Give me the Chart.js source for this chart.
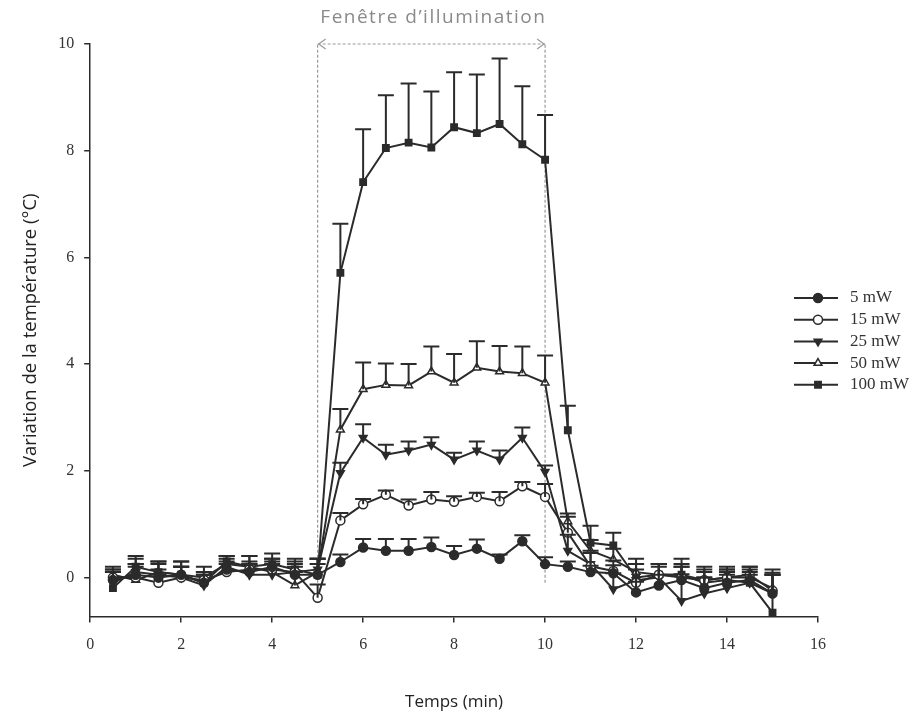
<!DOCTYPE html>
<html>
<head>
<meta charset="utf-8">
<script src="https://cdn.jsdelivr.net/npm/chart.js"></script>
<style>
  body { margin: 0; background: #fff; }
</style>
</head>
<body>
<canvas id="chart" width="924" height="716"></canvas>
<script>
// time points (min)
const times = [0.5, 1, 1.5, 2, 2.5, 3, 3.5, 4, 4.5, 5, 5.5, 6, 6.5, 7, 7.5, 8, 8.5, 9, 9.5, 10,
  10.5, 11, 11.5, 12, 12.5, 13, 13.5, 14, 14.5, 15];

const mw5 = [-0.05, 0.05, 0.0, 0.05, -0.1, 0.15, 0.1, 0.2, 0.05, 0.05, 0.29, 0.56, 0.5, 0.5, 0.57, 0.42, 0.54, 0.35, 0.68, 0.25,
  0.2, 0.1, 0.08, -0.28, -0.15, -0.05, -0.2, -0.1, -0.05, -0.3];
const err5 = [0.2, 0.2, 0.15, 0.15, 0.15, 0.15, 0.15, 0.15, 0.15, 0.2, 0.14, 0.16, 0.22, 0.22, 0.18, 0.17, 0.17, 0.08, 0.11, 0.13,
  0.1, 0.12, 0.15, 0.2, 0.2, 0.25, 0.2, 0.2, 0.15, 0.35];

const mw15 = [0.0, 0.0, -0.1, 0.0, -0.05, 0.1, 0.15, 0.15, 0.1, -0.38, 1.07, 1.37, 1.55, 1.35, 1.46, 1.42, 1.51, 1.43, 1.71, 1.51,
  0.84, 0.21, 0.12, -0.1, 0.05, 0.0, -0.05, 0.0, 0.05, -0.25];
const err15 = [0.15, 0.2, 0.15, 0.2, 0.15, 0.15, 0.15, 0.15, 0.15, 0.25, 0.14, 0.1, 0.08, 0.11, 0.14, 0.1, 0.08, 0.17, 0.08, 0.24,
  0.3, 0.25, 0.2, 0.25, 0.2, 0.2, 0.2, 0.15, 0.15, 0.3];

const mw25 = [-0.1, 0.1, 0.05, 0.0, -0.15, 0.2, 0.05, 0.05, 0.1, 0.15, 1.96, 2.62, 2.3, 2.38, 2.49, 2.21, 2.38, 2.21, 2.62, 1.98,
  0.5, 0.25, -0.22, -0.05, 0.0, -0.44, -0.3, -0.2, -0.1, -0.3];
const err25 = [0.2, 0.25, 0.2, 0.2, 0.2, 0.15, 0.2, 0.2, 0.2, 0.2, 0.19, 0.25, 0.19, 0.17, 0.14, 0.13, 0.17, 0.17, 0.19, 0.12,
  0.3, 0.25, 0.3, 0.3, 0.2, 0.5, 0.3, 0.25, 0.25, 0.35];

const mw50 = [0.05, -0.05, 0.1, 0.05, 0.0, 0.25, 0.2, 0.1, -0.15, 0.1, 2.77, 3.53, 3.61, 3.6, 3.86, 3.65, 3.93, 3.86, 3.83, 3.65,
  1.05, 0.5, 0.34, 0.1, 0.05, 0.05, -0.05, 0.0, 0.0, -0.2];
const err50 = [0.15, 0.3, 0.2, 0.25, 0.2, 0.15, 0.2, 0.25, 0.25, 0.25, 0.39, 0.5, 0.4, 0.4, 0.47, 0.54, 0.5, 0.48, 0.5, 0.51,
  0.15, 0.2, 0.2, 0.25, 0.2, 0.3, 0.25, 0.2, 0.2, 0.35];

const mw100 = [-0.2, 0.2, 0.1, 0.05, -0.1, 0.3, 0.2, 0.25, 0.15, 0.05, 5.71, 7.41, 8.05, 8.15, 8.06, 8.44, 8.33, 8.5, 8.12, 7.83,
  2.76, 0.65, 0.6, 0.0, 0.05, 0.05, -0.1, -0.05, -0.1, -0.66];
const err100 = [0.3, 0.2, 0.2, 0.25, 0.2, 0.1, 0.2, 0.2, 0.2, 0.3, 0.92, 0.99, 0.99, 1.11, 1.05, 1.03, 1.1, 1.23, 1.09, 0.84,
  0.46, 0.32, 0.24, 0.25, 0.2, 0.2, 0.2, 0.2, 0.15, 0.75];

const xTicks = [0, 2, 4, 6, 8, 10, 12, 14, 16];
const yTicks = [0, 2, 4, 6, 8, 10];
const windowStart = 5;
const windowEnd = 10;

const INK = '#2b2b2b';

function series(label, values, errs, style, filled, rotation) {
  return {
    label: label,
    data: times.map((t, i) => ({ x: t, y: values[i] })),
    errors: errs,
    borderColor: INK,
    borderWidth: 2,
    pointStyle: style,
    pointRotation: rotation || 0,
    pointRadius: 4.5,
    pointBorderWidth: 1.5,
    pointBorderColor: INK,
    pointBackgroundColor: filled ? INK : '#fff',
    tension: 0
  };
}

// vertical error bars, upper side only, with a cap
const errorBars = {
  id: 'errorBars',
  afterDatasetsDraw(chart) {
    const ctx = chart.ctx;
    const y = chart.scales.y;
    ctx.save();
    ctx.strokeStyle = INK;
    ctx.lineWidth = 2;
    chart.data.datasets.forEach((ds, di) => {
      const meta = chart.getDatasetMeta(di);
      meta.data.forEach((pt, i) => {
        const v = ds.data[i].y;
        const top = y.getPixelForValue(v + ds.errors[i]);
        ctx.beginPath();
        ctx.moveTo(pt.x, pt.y);
        ctx.lineTo(pt.x, top);
        ctx.moveTo(pt.x - 8, top);
        ctx.lineTo(pt.x + 8, top);
        ctx.stroke();
      });
    });
    ctx.restore();
  }
};

// dashed "illumination window" bracket and its label
const windowMark = {
  id: 'windowMark',
  beforeDatasetsDraw(chart) {
    const ctx = chart.ctx;
    const xs = chart.scales.x, ys = chart.scales.y;
    const x1 = xs.getPixelForValue(windowStart);
    const x2 = xs.getPixelForValue(windowEnd);
    const top = ys.getPixelForValue(10);
    const bot = ys.getPixelForValue(-0.1);
    ctx.save();
    ctx.strokeStyle = '#9a9a9a';
    ctx.lineWidth = 1.2;
    ctx.setLineDash([3, 2]);
    ctx.beginPath();
    ctx.moveTo(x1, bot); ctx.lineTo(x1, top);
    ctx.moveTo(x2, bot); ctx.lineTo(x2, top);
    ctx.moveTo(x1, top); ctx.lineTo(x2, top);
    ctx.stroke();
    ctx.setLineDash([]);
    ctx.beginPath();
    ctx.moveTo(x1 + 8, top - 5); ctx.lineTo(x1 + 1, top); ctx.lineTo(x1 + 8, top + 5);
    ctx.moveTo(x2 - 8, top - 5); ctx.lineTo(x2 - 1, top); ctx.lineTo(x2 - 8, top + 5);
    ctx.stroke();
    ctx.fillStyle = '#8a8a8a';
    ctx.font = '19px "Open Sans"';
    ctx.letterSpacing = '1.5px';
    ctx.textAlign = 'center';
    ctx.textBaseline = 'middle';
    ctx.fillText('Fenêtre d\u2019illumination', (x1 + x2) / 2 + 2, 18);
    ctx.restore();
  }
};

// legend: line through marker, serif labels
const sideLegend = {
  id: 'sideLegend',
  afterDraw(chart) {
    const ctx = chart.ctx;
    const x0 = 794, x1 = 838, tx = 850;
    let yy = 298;
    ctx.save();
    chart.data.datasets.forEach((ds) => {
      ctx.strokeStyle = INK;
      ctx.lineWidth = 2;
      ctx.beginPath();
      ctx.moveTo(x0, yy);
      ctx.lineTo(x1, yy);
      ctx.stroke();
      ctx.fillStyle = ds.pointBackgroundColor;
      ctx.lineWidth = 1.5;
      Chart.helpers.drawPoint(ctx, {
        pointStyle: ds.pointStyle,
        rotation: ds.pointRotation,
        radius: 4.5,
        borderWidth: 1.5
      }, (x0 + x1) / 2 + 2, yy);
      ctx.fillStyle = '#333';
      ctx.font = '17px "Liberation Serif"';
      ctx.textAlign = 'left';
      ctx.textBaseline = 'middle';
      ctx.fillText(ds.label, tx, yy);
      yy += 21.7;
    });
    ctx.restore();
  }
};

new Chart(document.getElementById('chart'), {
  type: 'line',
  data: {
    datasets: [
      series('5 mW', mw5, err5, 'circle', true),
      series('15 mW', mw15, err15, 'circle', false),
      series('25 mW', mw25, err25, 'triangle', true, 180),
      series('50 mW', mw50, err50, 'triangle', false),
      series('100 mW', mw100, err100, 'rect', true)
    ]
  },
  options: {
    responsive: false,
    animation: false,
    layout: { padding: { left: 20, right: 106, top: 44, bottom: 0 } },
    plugins: {
      legend: { display: false },
      tooltip: { enabled: false }
    },
    scales: {
      x: {
        type: 'linear',
        min: 0,
        max: 16,
        afterBuildTicks: (axis) => { axis.ticks = xTicks.map(v => ({ value: v })); },
        grid: { drawOnChartArea: false, drawTicks: true, tickLength: 6, color: INK, lineWidth: 1.5 },
        border: { display: true, color: INK, width: 1.5 },
        ticks: { color: '#333', font: { family: '"Liberation Serif"', size: 16 }, padding: 13, maxRotation: 0 },
        title: {
          display: true,
          text: 'Temps (min)',
          color: '#222',
          font: { family: '"Open Sans"', size: 17 },
          padding: { top: 24, bottom: 4 }
        }
      },
      y: {
        type: 'linear',
        min: -0.73,
        max: 10,
        afterBuildTicks: (axis) => { axis.ticks = yTicks.map(v => ({ value: v })); },
        grid: { drawOnChartArea: false, drawTicks: true, tickLength: 6, color: INK, lineWidth: 1.5 },
        border: { display: true, color: INK, width: 1.5 },
        ticks: { color: '#333', font: { family: '"Liberation Serif"', size: 16 }, padding: 10 },
        title: {
          display: true,
          text: 'Variation de la température (°C)',
          color: '#222',
          font: { family: '"Open Sans"', size: 18.5 },
          padding: { top: 0, bottom: 6 }
        }
      }
    }
  },
  plugins: [windowMark, errorBars, sideLegend]
});
</script>
</body>
</html>
